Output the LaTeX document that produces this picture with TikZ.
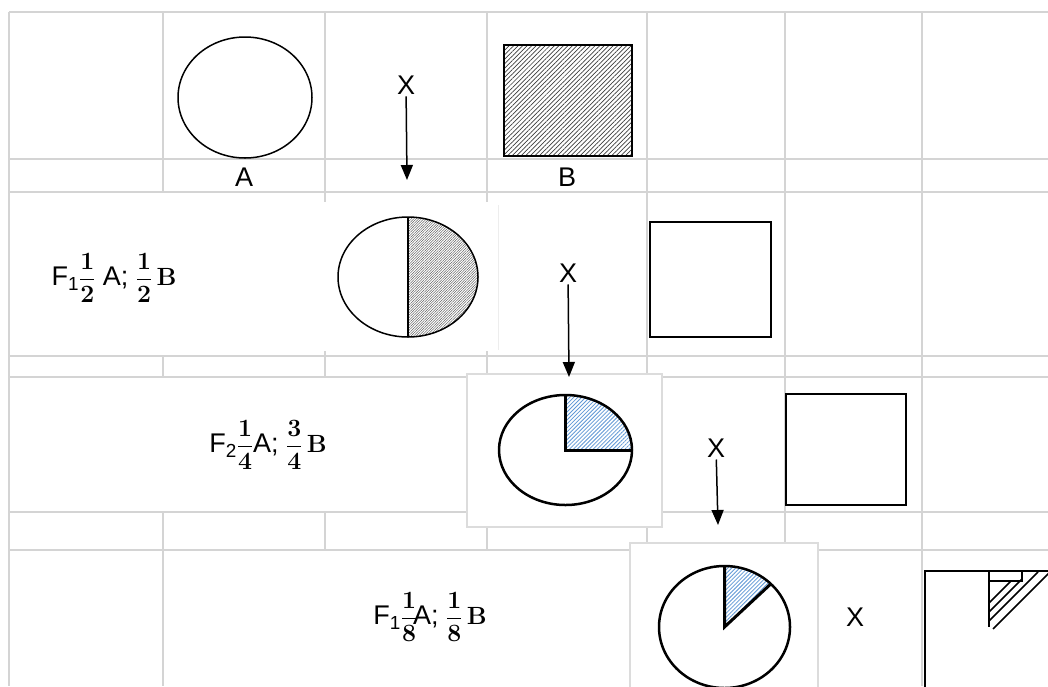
\documentclass[tikz,border=0pt]{standalone}
\usepackage{amsmath}
\usepackage[no-math]{fontspec}
\setmainfont{Liberation Sans}
\usetikzlibrary{arrows.meta,patterns.meta}
\definecolor{gridGray}{RGB}{212,212,212}
\definecolor{boxGray}{RGB}{220,220,220}
\definecolor{hatchBlue}{RGB}{96,152,214}
\definecolor{hatchDark}{RGB}{60,60,60}

\begin{document}
\begin{tikzpicture}[x=1pt,y=-1pt,
    cell/.style={draw=gridGray, line width=2pt},
    picbox/.style={fill=white, draw=boxGray, line width=1.5pt},
    lbl/.style={font=\fontsize{27}{32}\selectfont, inner sep=2pt},
    cross/.style={-{Triangle[length=15pt,width=12pt]}, line width=1.5pt}]
        \useasboundingbox (0,0) rectangle (1048,686);
        \clip (0,0) rectangle (1048,686);
        % Table grid
        \foreach \y in {12,159,192,356,377,512,550}
          \draw[cell] (9,\y) -- (1048,\y);
        \draw[cell] (9,12) -- (9,686);
        \foreach \x in {163,325,487,647} {
          \draw[cell] (\x,12) -- (\x,192);
          \draw[cell] (\x,356) -- (\x,377);
          \draw[cell] (\x,512) -- (\x,550);
        }
        \foreach \x in {325,487,647}
          \draw[cell] (\x,192) -- (\x,356);
        \draw[cell] (163,550) -- (163,686);
        \draw[cell] (785,12) -- (785,686);
        \draw[cell] (922,12) -- (922,686);
        % Picture boxes
        \fill[white] (322,202) rectangle (498,351);
        \draw[boxGray!50, line width=1pt] (498,205) -- (498,350);
        \draw[picbox] (467,374) rectangle (662,527);
        \draw[picbox] (630,543) rectangle (818,700);
        % Row 1: parents
        \draw[line width=1.5pt] (245,97.5) ellipse [x radius=67pt, y radius=60.5pt];
        \node[lbl] (labA) at (244,177) {A};
        \draw[line width=2pt, pattern={Lines[angle=45,distance=3.2pt,line width=0.7pt]}, pattern color=hatchDark]
          (504,45) rectangle (632,156);
        \node[lbl] (labB) at (567,177) {B};
        \node[lbl] (cross1) at (406,85) {X};
        \coordinate (cross1end) at (407,180);
        \draw[cross] (cross1) -- (cross1end);
        % Row 2: F1
        \node[lbl] (gen1) at (114,278) {F$_{\text{1}}\dfrac{\mathbf{1}}{\mathbf{2}}$ A; $\dfrac{\mathbf{1}}{\mathbf{2}}\,\mathbf{B}$};
        \fill[pattern={Lines[angle=45,distance=1.8pt,line width=0.35pt]}, pattern color=hatchDark]
          (408,217) arc[start angle=90, end angle=-90, x radius=70pt, y radius=60pt] -- cycle;
        \draw[line width=1.5pt] (408,277) ellipse [x radius=70pt, y radius=60pt];
        \draw[line width=1.5pt] (408,217) -- (408,337);
        \draw[line width=2pt] (650,222) rectangle (771,337);
        \node[lbl] (cross2) at (568,273) {X};
        \coordinate (cross2end) at (569,377);
        \draw[cross] (cross2) -- (cross2end);
        % Row 3: F2
        \node[lbl] (gen2) at (268,445) {F$_{\text{2}}\dfrac{\mathbf{1}}{\mathbf{4}}$A; $\dfrac{\mathbf{3}}{\mathbf{4}}\,\mathbf{B}$};
        \fill[pattern={Lines[angle=45,distance=2.8pt,line width=0.8pt]}, pattern color=hatchBlue]
          (565.5,450) -- (565.5,395) arc[start angle=90, end angle=0, x radius=66.5pt, y radius=55pt] -- cycle;
        \draw[line width=2.5pt] (565.5,450) ellipse [x radius=66.5pt, y radius=55pt];
        \draw[line width=3pt] (565.5,395) -- (565.5,450) -- (632,450);
        \draw[line width=2.5pt] (786,394) rectangle (906,505);
        \node[lbl] (cross3) at (716,448) {X};
        \coordinate (cross3end) at (718,525);
        \draw[cross] (cross3) -- (cross3end);
        % Row 4: next generation
        \node[lbl] (gen3) at (430,617) {F$_{\text{1}}\dfrac{\mathbf{1}}{\mathbf{8}}$\kern-4ptA; $\dfrac{\mathbf{1}}{\mathbf{8}}\,\mathbf{B}$};
        \fill[pattern={Lines[angle=45,distance=2.8pt,line width=0.8pt]}, pattern color=hatchBlue]
          (724.5,627) -- (724.5,566) arc[start angle=90, end angle=45, x radius=65.5pt, y radius=61pt] -- cycle;
        \draw[line width=2.5pt] (724.5,627) ellipse [x radius=65.5pt, y radius=61pt];
        \draw[line width=3pt] (724.5,566) -- (724.5,627) -- (770.8,583.9);
        \node[lbl] (cross4) at (855,617) {X};
        % Cut-off square
        \draw[line width=2pt] (925,690) -- (925,571) -- (1050,571);
        \draw[line width=1.5pt] (989,571) rectangle (1022,581);
        \draw[line width=1.5pt] (989,571) -- (989,627);
        \draw[line width=1.5pt] (989,603) -- (1011,581);
        \draw[line width=1.5pt] (989,612) -- (1022,579);
        \draw[line width=1.5pt] (989,621) -- (1038,572);
        \draw[line width=1.5pt] (993,629) -- (1050,572);
      \end{tikzpicture}
\end{document}
